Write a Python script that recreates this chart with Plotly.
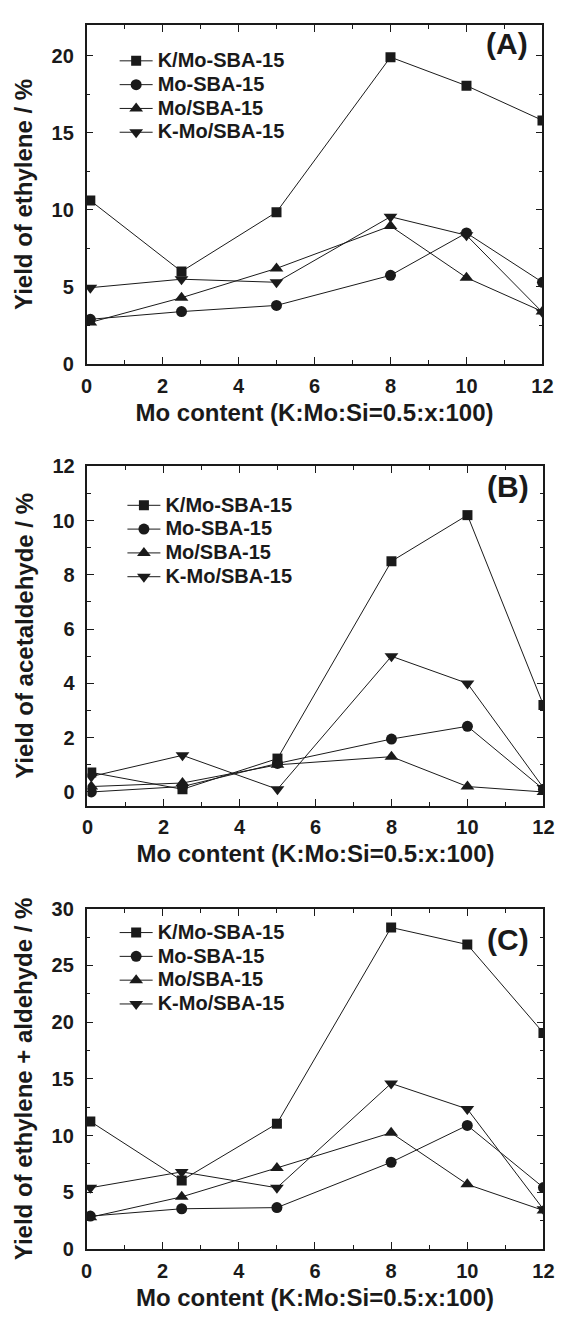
import plotly.graph_objects as go

x = [0.1, 2.5, 5, 8, 10, 12]
names = ["K/Mo-SBA-15", "Mo-SBA-15", "Mo/SBA-15", "K-Mo/SBA-15"]
symbols = ["square", "circle", "triangle-up", "triangle-down"]

# Panel A: yield of ethylene
a_kmo_sba = [10.6, 6.0, 9.85, 19.9, 18.05, 15.8]
a_mo_sba = [2.9, 3.4, 3.8, 5.75, 8.5, 5.3]
a_mo_on_sba = [2.7, 4.3, 6.2, 8.95, 5.6, 3.4]
a_k_mo_on_sba = [4.95, 5.5, 5.3, 9.55, 8.35, 3.35]

# Panel B: yield of acetaldehyde
b_kmo_sba = [0.72, 0.1, 1.23, 8.5, 10.2, 3.2]
b_mo_sba = [0.0, 0.2, 1.05, 1.95, 2.42, 0.1]
b_mo_on_sba = [0.2, 0.33, 1.0, 1.3, 0.2, 0.0]
b_k_mo_on_sba = [0.57, 1.35, 0.1, 5.0, 4.0, 0.15]

# Panel C: yield of ethylene + aldehyde
c_kmo_sba = [11.25, 6.05, 11.05, 28.35, 26.85, 19.05]
c_mo_sba = [2.9, 3.55, 3.65, 7.65, 10.9, 5.42]
c_mo_on_sba = [2.8, 4.6, 7.15, 10.25, 5.7, 3.4]
c_k_mo_on_sba = [5.4, 6.8, 5.4, 14.6, 12.35, 3.5]

panels = [
    dict(data=[a_kmo_sba, a_mo_sba, a_mo_on_sba, a_k_mo_on_sba], label="(A)",
         ytitle="Yield of ethylene / %", yrange=[0, 22], ydtick=5, yminor=2.5),
    dict(data=[b_kmo_sba, b_mo_sba, b_mo_on_sba, b_k_mo_on_sba], label="(B)",
         ytitle="Yield of acetaldehyde / %", yrange=[-0.5, 12], ydtick=2, yminor=1),
    dict(data=[c_kmo_sba, c_mo_sba, c_mo_on_sba, c_k_mo_on_sba], label="(C)",
         ytitle="Yield of ethylene + aldehyde / %", yrange=[0, 30], ydtick=5, yminor=2.5),
]

W, H = 569, 1320
# plot boxes in pixels (left, top, right, bottom)
boxes = [(83, 14, 553, 359), (84, 463, 554, 808), (83, 913, 554, 1259)]
legend_pos = [(112, 33.5), (120, 485.5), (112, 920)]
label_pos = [(516, 33), (517, 484), (517, 944)]

FONT = "Liberation Sans, Arial, sans-serif"
INK = "#1a1a1a"
fig = go.Figure()
annotations = []
for i, p in enumerate(panels):
    sfx = "" if i == 0 else str(i + 1)
    lg = "legend" if i == 0 else f"legend{i + 1}"
    for j in range(4):
        ms = [10, 11, 12, 12][j]
        fig.add_trace(go.Scatter(
            x=x, y=p["data"][j],
            name=f'<span style="font-size:20px">{names[j]}</span>',
            mode="lines+markers",
            line=dict(color=INK, width=1),
            marker=dict(symbol=symbols[j], size=ms, color=INK),
            xaxis="x" + sfx, yaxis="y" + sfx, legend=lg,
        ))
    l, t, r, b = boxes[i]
    dom_x = [l / W, r / W]
    dom_y = [1 - b / H, 1 - t / H]
    axis_common = dict(
        showline=True, linecolor=INK, linewidth=1.5, mirror="ticks",
        ticks="inside", ticklen=7, tickwidth=1.2, tickcolor=INK,
        showgrid=False, zeroline=False,
        tickfont=dict(family=FONT, size=20, color=INK, weight="bold"),
    )
    fig.update_layout(**{
        "xaxis" + sfx: dict(
            domain=dom_x, anchor="y" + sfx, range=[0, 12], dtick=2, tick0=0,
            minor=dict(ticks="inside", ticklen=4, dtick=1, tickcolor=INK),
            ticklabelstandoff=3,
            title=dict(text="Mo content (K:Mo:Si=0.5:x:100)", standoff=8,
                       font=dict(family=FONT, size=24, color=INK, weight="bold")),
            **axis_common),
        "yaxis" + sfx: dict(
            domain=dom_y, anchor="x" + sfx, range=p["yrange"], dtick=p["ydtick"], tick0=0,
            minor=dict(ticks="inside", ticklen=4, dtick=p["yminor"], tickcolor=INK),
            ticklabelstandoff=7,
            title=dict(text=p["ytitle"], standoff=12,
                       font=dict(family=FONT, size=24, color=INK, weight="bold")),
            **axis_common),
        lg: dict(x=legend_pos[i][0] / W, y=1 - legend_pos[i][1] / H,
                 xanchor="left", yanchor="top", itemwidth=33,
                 bgcolor="rgba(0,0,0,0)",
                 font=dict(family=FONT, size=16, color=INK, weight="bold")),
    })
    lx, ly = label_pos[i]
    annotations.append(dict(text=p["label"], x=lx / W, y=1 - ly / H, xref="paper", yref="paper",
                            showarrow=False, xanchor="center", yanchor="middle",
                            font=dict(family=FONT, size=30, color=INK, weight="bold")))

fig.update_layout(width=W, height=H, margin=dict(l=0, r=0, t=0, b=0),
                  paper_bgcolor="white", plot_bgcolor="white",
                  annotations=annotations, showlegend=True)
fig.write_html("out.html")
